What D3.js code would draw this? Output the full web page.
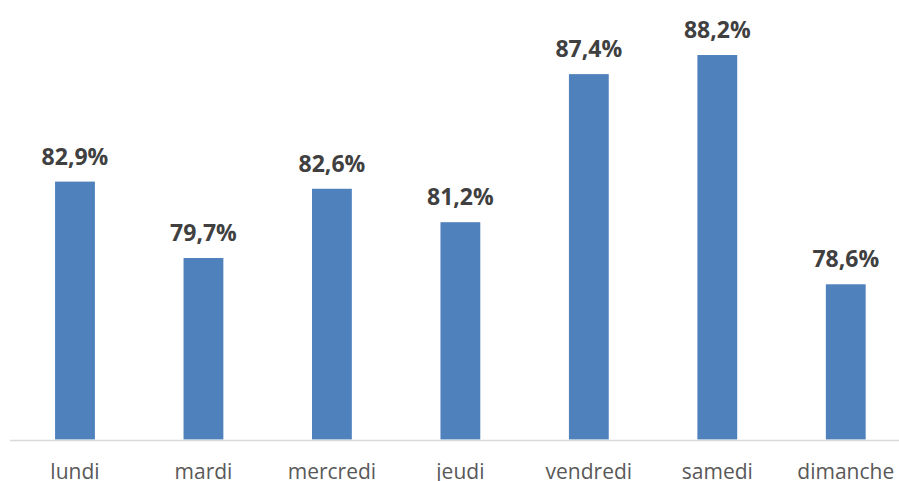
<!DOCTYPE html>
<html>
<head>
<meta charset="utf-8">
<script src="https://cdn.jsdelivr.net/npm/d3@7"></script>
<style>
  html, body { margin: 0; padding: 0; background: #fff; }
  svg { display: block; }
</style>
</head>
<body>
<svg id="chart" width="899" height="481"></svg>
<script>
const categories = ["lundi", "mardi", "mercredi", "jeudi", "vendredi", "samedi", "dimanche"];
const values = [82.9, 79.7, 82.6, 81.2, 87.4, 88.2, 78.6];
const yDomain = [72.1, 90];

const svg = d3.select("#chart");

const x = d3.scaleBand()
  .domain(categories)
  .range([10.75, 910])
  .paddingInner(0.69)
  .paddingOuter(0.345);

const y = d3.scaleLinear()
  .domain(yDomain)
  .range([439.5, 12.05]);

const data = categories.map((c, i) => ({ c, v: values[i] }));

svg.selectAll("rect.bar")
  .data(data)
  .join("rect")
  .attr("class", "bar")
  .attr("x", d => x(d.c))
  .attr("width", x.bandwidth())
  .attr("y", d => y(d.v))
  .attr("height", d => y(yDomain[0]) - y(d.v))
  .attr("fill", "#4f81bd");

// baseline axis
const xAxis = d3.axisBottom(x).tickSize(0).tickPadding(0);
const axisG = svg.append("g")
  .attr("transform", `translate(0,${y(yDomain[0]) + 1})`)
  .call(xAxis);
axisG.select(".domain")
  .attr("d", "M10,0H899")
  .attr("stroke", "#d9d9d9")
  .attr("stroke-width", 1.5);
axisG.selectAll(".tick text")
  .attr("y", 38)
  .attr("dy", null)
  .attr("font-family", "'Open Sans', sans-serif")
  .attr("font-size", "21px")
  .attr("fill", "#595959");

// value labels
svg.selectAll("text.val")
  .data(data)
  .join("text")
  .attr("class", "val")
  .attr("x", d => x(d.c) + x.bandwidth() / 2)
  .attr("y", d => y(d.v) - 17)
  .attr("text-anchor", "middle")
  .attr("font-family", "'Open Sans', sans-serif")
  .attr("font-weight", "bold")
  .attr("font-size", "23px")
  .attr("fill", "#404040")
  .text(d => d3.format(".1f")(d.v).replace(".", ",") + "%");
</script>
</body>
</html>
